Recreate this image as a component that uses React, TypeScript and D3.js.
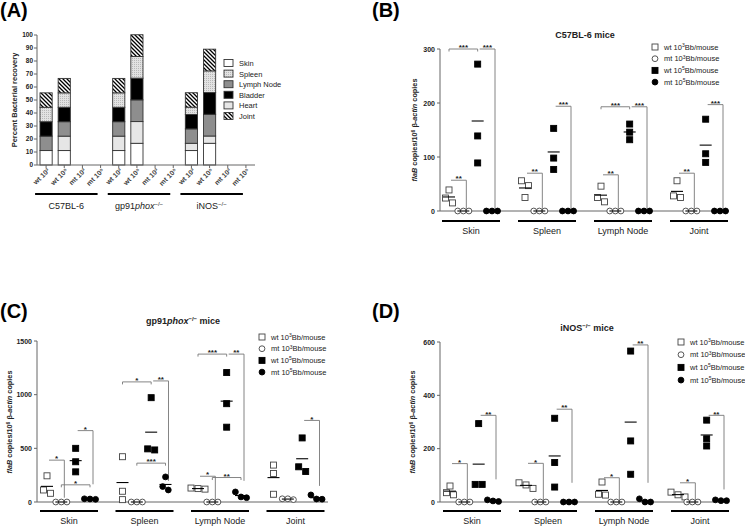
import React from 'react';
import * as d3 from 'd3';

const FONT = "'Liberation Sans', Arial, Helvetica, sans-serif";

// ---------- Panel A data ----------
const aStrains = ['C57BL-6', 'gp91phox', 'iNOS'];
const aDoses = ['wt 10³', 'wt 10⁵', 'mt 10³', 'mt 10⁵'];
const aLegend = ['Skin', 'Spleen', 'Lymph Node', 'Bladder', 'Heart', 'Joint'];
const aStackKeys = ['Skin', 'Heart', 'Lymph Node', 'Bladder', 'Spleen', 'Joint'];
const aSkin = [11.1, 11.1, 0, 0, 11.1, 16.7, 0, 0, 11.1, 16.7, 0, 0];
const aHeart = [0, 11.1, 0, 0, 11.1, 16.7, 0, 0, 5.6, 5.6, 0, 0];
const aLymph = [11.1, 11.1, 0, 0, 11.1, 16.7, 0, 0, 11.1, 16.7, 0, 0];
const aBladder = [11.1, 11.1, 0, 0, 11.1, 16.7, 0, 0, 11.1, 16.7, 0, 0];
const aSpleen = [11.1, 11.1, 0, 0, 11.1, 16.7, 0, 0, 5.6, 16.7, 0, 0];
const aJoint = [11.1, 11.1, 0, 0, 11.1, 16.7, 0, 0, 11.1, 16.7, 0, 0];
const aTicks = [0, 10, 20, 30, 40, 50, 60, 70, 80, 90, 100];

// ---------- Scatter panels ----------
const organs = ['Skin', 'Spleen', 'Lymph Node', 'Joint'];
const conds = ['wt3', 'mt3', 'wt5', 'mt5'];
const legendLabels = [['wt 10', '3', 'Bb/mouse'], ['mt 10', '3', 'Bb/mouse'], ['wt 10', '5', 'Bb/mouse'], ['mt 10', '5', 'Bb/mouse']];

// Panel B (C57BL-6)
const bWt3 = [[15, 39, 24], [56, 47, 25], [46, 17, 25], [56, 25, 28]];
const bMt3 = [[0, 0, 0], [0, 0, 0], [0, 0, 0], [0, 0, 0]];
const bWt5 = [[272, 139, 89], [153, 98, 77], [161, 132, 146], [170, 106, 90]];
const bMt5 = [[0, 0, 0], [0, 0, 0], [0, 0, 0], [0, 0, 0]];
const bTicks = [0, 100, 200, 300];
const bBrackets: any[] = [
  [0, 'wt3', 'mt3', 57, 4, '**', 'L'], [0, 'wt3', 'wt5', 300, 0, '***', 'T'], [0, 'wt5', 'mt5', 300, 4, '***', 'L'],
  [1, 'wt3', 'mt3', 70, 4, '**', 'L'], [1, 'wt5', 'mt5', 194, 4, '***', 'L'],
  [2, 'wt3', 'mt3', 67, 4, '**', 'L'], [2, 'wt3', 'wt5', 193, 0, '***', 'T'], [2, 'wt5', 'mt5', 193, 4, '***', 'L'],
  [3, 'wt3', 'mt3', 70, 4, '**', 'L'], [3, 'wt5', 'mt5', 197, 4, '***', 'L'],
];

// Panel C (gp91phox-/-)
const cWt3 = [[81, 112, 244], [422, 100, 22], [130, 120, 125], [344, 266, 72]];
const cMt3 = [[0, 0, 0], [0, 0, 0], [0, 0, 0], [30, 22, 30]];
const cWt5 = [[500, 375, 281], [972, 485, 495], [1206, 916, 697], [597, 284, 328]];
const cMt5 = [[30, 25, 28], [234, 112, 144], [94, 40, 47], [66, 28, 26]];
const cTicks = [0, 500, 1000, 1500];
const cBrackets: any[] = [
  [0, 'wt3', 'mt3', 390, 40, '*', 'L'], [0, 'mt3', 'mt5', 160, 0, '*', 'T'], [0, 'wt5', 'mt5', 665, 165, '*', 'L'],
  [1, 'wt3', 'wt5', 1119, 0, '*', 'T'], [1, 'wt5', 'mt5', 1128, 197, '**', 'L'], [1, 'mt3', 'mt5', 362, 0, '***', 'T'],
  [2, 'wt3', 'wt5', 1378, 0, '***', 'T'], [2, 'wt5', 'mt5', 1378, 197, '**', 'L'], [2, 'wt3', 'mt3', 240, 10, '*', 'L'], [2, 'mt3', 'mt5', 228, 0, '**', 'T'],
  [3, 'wt5', 'mt5', 760, 150, '*', 'L'],
];

// Panel D (iNOS-/-)
const dWt3 = [[60, 27, 35], [72, 51, 64], [75, 26, 29], [37, 27, 19]];
const dMt3 = [[0, 0, 0], [0, 0, 0], [0, 0, 0], [0, 0, 0]];
const dWt5 = [[294, 66, 66], [314, 148, 56], [566, 229, 104], [307, 237, 210]];
const dMt5 = [[8, 4, 2], [0, 0, 0], [12, 0, 0], [8, 5, 5]];
const dTicks = [0, 200, 400, 600];
const dBrackets: any[] = [
  [0, 'wt3', 'mt3', 144, 2, '*', 'L'], [0, 'wt5', 'mt5', 325, 85, '**', 'L'],
  [1, 'wt3', 'mt3', 145, 2, '*', 'L'], [1, 'wt5', 'mt5', 348, 72, '**', 'L'],
  [2, 'wt3', 'mt3', 91, 2, '*', 'L'], [2, 'wt5', 'mt5', 589, 72, '**', 'L'],
  [3, 'wt3', 'mt3', 72, 2, '*', 'L'], [3, 'wt5', 'mt5', 325, 47, '**', 'L'],
];

const AXIS = '#666';
const TXT = '#222';

function Marker({ cond, x, y }: any) {
  const open = cond === 'wt3' || cond === 'mt3';
  const sq = cond === 'wt3' || cond === 'wt5';
  const fill = open ? '#fff' : '#000';
  const stroke = open ? '#444' : '#000';
  return sq
    ? <rect x={x - 3} y={y - 3} width={6} height={6} fill={fill} stroke={stroke} strokeWidth={0.9} />
    : <circle cx={x} cy={y} r={2.9} fill={fill} stroke={stroke} strokeWidth={0.9} />;
}

function spread(vals: number[], y: any, step: number) {
  const pts = vals.map((v, i) => ({ v, py: y(v), i, dx: 0 })).sort((a, b) => a.py - b.py);
  const clusters: any[] = [];
  let cur: any[] = [pts[0]];
  for (let k = 1; k < pts.length; k++) {
    if (pts[k].py - cur[cur.length - 1].py < 6) cur.push(pts[k]);
    else { clusters.push(cur); cur = [pts[k]]; }
  }
  clusters.push(cur);
  clusters.forEach((c) => c.forEach((p: any, j: number) => { p.dx = (j - (c.length - 1) / 2) * step; }));
  return pts;
}

function MiceTitle({ x, y, name }: any) {
  if (name === 'C57BL-6') return <text x={x} y={y} textAnchor="middle" fontWeight="bold" fontSize={9} fill={TXT}>C57BL-6 mice</text>;
  if (name === 'gp91phox') return (
    <text x={x} y={y} textAnchor="middle" fontWeight="bold" fontSize={9} fill={TXT}>
      gp91<tspan fontStyle="italic">phox</tspan><tspan dy={-3.5} fontSize={6}>−/−</tspan><tspan dy={3.5}> mice</tspan>
    </text>
  );
  return (
    <text x={x} y={y} textAnchor="middle" fontWeight="bold" fontSize={9} fill={TXT}>
      iNOS<tspan dy={-3.5} fontSize={6}>−/−</tspan><tspan dy={3.5}> mice</tspan>
    </text>
  );
}

function Scatter({ cfg, data, brackets, ticks }: any) {
  const y = d3.scaleLinear().domain([0, cfg.max]).range([cfg.y0, cfg.yTop]);
  const outer = d3.scaleBand().domain(organs).range(cfg.band).paddingInner(0).paddingOuter(0);
  const inner = d3.scalePoint().domain(conds).range([8, 51]);
  const col = (o: string, c: string) => (outer(o) as number) + (inner(c) as number);
  return (
    <g fontFamily={FONT}>
      <line x1={cfg.ax0} x2={cfg.ax0} y1={cfg.yTop} y2={cfg.y0} stroke={AXIS} strokeWidth={1} />
      <line x1={cfg.ax0} x2={cfg.ax1} y1={cfg.y0} y2={cfg.y0} stroke={AXIS} strokeWidth={1} />
      {ticks.map((t: number) => (
        <g key={t}>
          <line x1={cfg.ax0 - 3} x2={cfg.ax0} y1={y(t)} y2={y(t)} stroke={AXIS} />
          <text x={cfg.ax0 - 5} y={y(t) + 2.5} textAnchor="end" fontSize={7} fontWeight="bold" fill={TXT}>{t}</text>
        </g>
      ))}
      <text transform={`translate(${cfg.ylx},${cfg.yly}) rotate(-90)`} textAnchor="middle" fontSize={7.3} fontWeight="bold" fill={TXT}>
        <tspan fontStyle="italic">flaB</tspan> copies/10<tspan dy={-2.5} fontSize={5}>6</tspan><tspan dy={2.5}> β-</tspan><tspan fontStyle="italic">actin</tspan> copies
      </text>
      <MiceTitle x={cfg.tx} y={cfg.ty} name={cfg.name} />
      {organs.map((o) => {
        const b = outer(o) as number;
        return (
          <g key={o}>
            <line x1={b + 1} x2={b + 59} y1={cfg.uy} y2={cfg.uy} stroke="#000" strokeWidth={1.8} />
            <text x={b + 30} y={cfg.uy + 13} textAnchor="middle" fontSize={9} fill={TXT}>{o}</text>
          </g>
        );
      })}
      {brackets.map((br: any, i: number) => {
        const [oi, c1, c2, h, bottom, lab, kind] = br;
        const o = organs[oi];
        const yh = y(h);
        let x1, x2, d;
        if (kind === 'L') {
          x1 = col(o, c1) + 2; x2 = col(o, c2) + 3;
          d = `M${x1},${yh}H${x2}V${y(bottom)}`;
        } else {
          x1 = col(o, c1); x2 = col(o, c2);
          d = `M${x1},${yh + 2.5}V${yh}H${x2}V${yh + 2.5}`;
        }
        return (
          <g key={i}>
            <path d={d} fill="none" stroke="#777" strokeWidth={0.9} />
            <text x={(x1 + x2) / 2} y={yh + 1.2} textAnchor="middle" fontSize={8} fontWeight="bold" fill={TXT}>{lab}</text>
          </g>
        );
      })}
      {organs.map((o, oi) => conds.map((c) => {
        const vals: number[] = data[c][oi];
        const cx = col(o, c);
        const isCircle = c === 'mt3' || c === 'mt5';
        const pts = spread(vals, y, isCircle ? 5.6 : 7);
        const m = d3.mean(vals) as number;
        return (
          <g key={o + c}>
            {pts.map((p: any, k: number) => <Marker key={k} cond={c} x={cx + p.dx} y={p.py} />)}
            <line x1={cx - 6} x2={cx + 6} y1={y(m)} y2={y(m)} stroke="#000" strokeWidth={1.1} />
          </g>
        );
      }))}
      {conds.map((c, i) => {
        const ly = cfg.ly + i * cfg.lstep;
        const [a, s, b] = legendLabels[i];
        return (
          <g key={c}>
            <Marker cond={c} x={cfg.lx} y={ly} />
            <text x={cfg.lx + 9} y={ly + 2.6} fontSize={7.5} fill={TXT}>
              {a}<tspan dy={-2.8} fontSize={5}>{s}</tspan><tspan dy={2.8}>{b}</tspan>
            </text>
          </g>
        );
      })}
    </g>
  );
}

function PanelA() {
  const cats = d3.range(12);
  const rows = cats.map((i) => ({
    Skin: aSkin[i], Heart: aHeart[i], 'Lymph Node': aLymph[i], Bladder: aBladder[i], Spleen: aSpleen[i], Joint: aJoint[i],
  }));
  const series = d3.stack<any>().keys(aStackKeys)(rows);
  const x = d3.scaleBand<number>().domain(cats).range([37, 255]).paddingInner(0.33).paddingOuter(0.165);
  const y = d3.scaleLinear().domain([0, 100]).range([165, 35]);
  const fills: any = {
    Skin: '#fff', Heart: '#e6e6e6', 'Lymph Node': '#8e8e8e', Bladder: '#000', Spleen: 'url(#dots)', Joint: 'url(#hatch)',
  };
  const cx = (i: number) => (x(i) as number) + x.bandwidth() / 2;
  return (
    <g fontFamily={FONT}>
      {series.map((s: any) => (
        <g key={s.key}>
          {s.map((d: any, i: number) => (d[1] - d[0] > 0 ? (
            <rect key={i} x={x(i)} y={y(d[1])} width={x.bandwidth()} height={y(d[0]) - y(d[1])}
              fill={fills[s.key]} stroke="#333" strokeWidth={0.9} />
          ) : null))}
        </g>
      ))}
      <line x1={37} x2={37} y1={35} y2={165} stroke={AXIS} />
      <line x1={37} x2={255} y1={165} y2={165} stroke={AXIS} />
      {aTicks.map((t) => (
        <g key={t}>
          <line x1={34} x2={37} y1={y(t)} y2={y(t)} stroke={AXIS} />
          <text x={33} y={y(t) + 2.4} textAnchor="end" fontSize={6.5} fontWeight="bold" fill={TXT}>{t}</text>
        </g>
      ))}
      {cats.map((i) => (
        <g key={i}>
          <line x1={cx(i)} x2={cx(i)} y1={165} y2={168} stroke={AXIS} />
          <text transform={`translate(${cx(i) + 4},${171}) rotate(-45)`} textAnchor="end" fontSize={7} fontWeight="bold" fill="#444">
            {aDoses[i % 4]}
          </text>
        </g>
      ))}
      <text transform="translate(17,100) rotate(-90)" textAnchor="middle" fontSize={7.5} fontWeight="bold" fill={TXT}>Percent Bacterial recovery</text>
      {aStrains.map((s, k) => {
        const x1 = cx(k * 4) - 11;
        const x2 = cx(k * 4 + 3) - 3;
        const mx = (x1 + x2) / 2;
        return (
          <g key={s}>
            <line x1={x1} x2={x2} y1={194} y2={194} stroke="#000" strokeWidth={1.8} />
            {s === 'C57BL-6' && <text x={mx} y={209} textAnchor="middle" fontSize={9} fill={TXT}>C57BL-6</text>}
            {s === 'gp91phox' && (
              <text x={mx} y={209} textAnchor="middle" fontSize={9} fill={TXT}>
                gp91<tspan fontStyle="italic">phox</tspan><tspan dy={-3.5} fontSize={6}>−/−</tspan>
              </text>
            )}
            {s === 'iNOS' && (
              <text x={mx} y={209} textAnchor="middle" fontSize={9} fill={TXT}>
                iNOS<tspan dy={-3.5} fontSize={6}>−/−</tspan>
              </text>
            )}
          </g>
        );
      })}
      {aLegend.map((k, i) => (
        <g key={k}>
          <rect x={224} y={59.5 + i * 10.6} width={9} height={7} fill={fills[k]} stroke="#333" strokeWidth={0.9} />
          <text x={239} y={66 + i * 10.6} fontSize={7.5} fill={TXT}>{k}</text>
        </g>
      ))}
    </g>
  );
}

export default function App() {
  const cfgB = { name: 'C57BL-6', max: 300, y0: 211, yTop: 49, ax0: 440, ax1: 729, band: [441, 745], ylx: 417, yly: 130, tx: 585, ty: 38, uy: 221, lx: 655, ly: 47, lstep: 11.7 };
  const cfgC = { name: 'gp91phox', max: 1500, y0: 502, yTop: 341, ax0: 37, ax1: 328, band: [39, 341], ylx: 12, yly: 422, tx: 183, ty: 324, uy: 511, lx: 262, ly: 337, lstep: 11.7 };
  const cfgD = { name: 'iNOS', max: 600, y0: 502, yTop: 342, ax0: 440, ax1: 729, band: [442, 746], ylx: 415, yly: 422, tx: 587, ty: 331, uy: 511, lx: 681, ly: 342, lstep: 12.7 };
  return (
    <svg width={745} height={527} style={{ display: 'block', position: 'absolute', left: 0, top: 0, background: '#fff' }}>
      <defs>
        <pattern id="hatch" patternUnits="userSpaceOnUse" width={4} height={4}>
          <rect width={4} height={4} fill="#fff" />
          <path d="M-1,-1L5,5M-1,3L1,5M3,-1L5,1" stroke="#000" strokeWidth={1.3} />
        </pattern>
        <pattern id="dots" patternUnits="userSpaceOnUse" width={2} height={2}>
          <rect width={2} height={2} fill="#e2e2e2" />
          <rect width={1} height={1} fill="#b8b8b8" />
        </pattern>
      </defs>
      <rect width={745} height={527} fill="#fff" />
      <g fontFamily={FONT} fontWeight="bold" fontSize={20} fill="#000">
        <text x={0} y={17}>(A)</text>
        <text x={372} y={17}>(B)</text>
        <text x={0} y={318}>(C)</text>
        <text x={372} y={318}>(D)</text>
      </g>
      <PanelA />
      <Scatter cfg={cfgB} data={{ wt3: bWt3, mt3: bMt3, wt5: bWt5, mt5: bMt5 }} brackets={bBrackets} ticks={bTicks} />
      <Scatter cfg={cfgC} data={{ wt3: cWt3, mt3: cMt3, wt5: cWt5, mt5: cMt5 }} brackets={cBrackets} ticks={cTicks} />
      <Scatter cfg={cfgD} data={{ wt3: dWt3, mt3: dMt3, wt5: dWt5, mt5: dMt5 }} brackets={dBrackets} ticks={dTicks} />
    </svg>
  );
}
